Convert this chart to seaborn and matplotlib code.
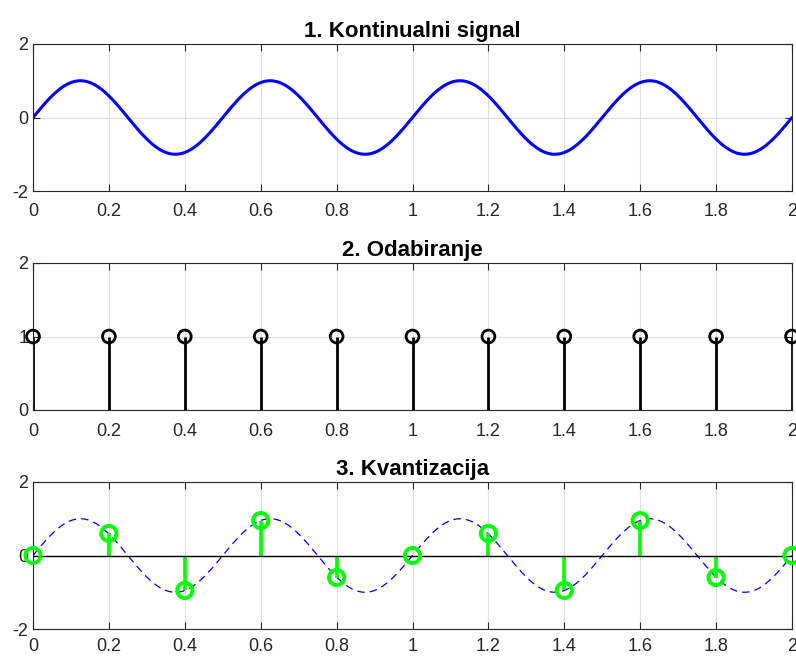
import numpy as np
import pandas as pd
import matplotlib
matplotlib.use("Agg")
import matplotlib.pyplot as plt
import seaborn as sns

# ---- data ----
titles = ["1. Kontinualni signal", "2. Odabiranje", "3. Kvantizacija"]
amplitude = 1.0          # peak of the continuous signal
frequency = 2.0          # Hz (4 periods over 0..2)
t_start, t_end = 0.0, 2.0
sample_times = [0.0, 0.2, 0.4, 0.6, 0.8, 1.0, 1.2, 1.4, 1.6, 1.8, 2.0]
sampling_pulses = [1, 1, 1, 1, 1, 1, 1, 1, 1, 1, 1]
quantized_values = [0.0, 0.6, -0.95, 0.95, -0.6, 0.0, 0.6, -0.95, 0.95, -0.6, 0.0]
x_ticks = [0, 0.2, 0.4, 0.6, 0.8, 1, 1.2, 1.4, 1.6, 1.8, 2]
x_ticklabels = ["0", "0.2", "0.4", "0.6", "0.8", "1", "1.2", "1.4", "1.6", "1.8", "2"]
y_ticks_signal = [-2, 0, 2]
y_ticks_pulses = [0, 1, 2]

t = np.linspace(t_start, t_end, 2001)
continuous = amplitude * np.sin(2 * np.pi * frequency * t)
df_cont = pd.DataFrame({"t": t, "x": continuous})

sns.set_style("ticks")
plt.rcParams["font.family"] = ["Liberation Sans", "DejaVu Sans"]
plt.rcParams["axes.unicode_minus"] = False

fig = plt.figure(figsize=(7.96, 6.57), dpi=100)
L, W, H = 33 / 796, (792 - 33) / 796, 147 / 657
bottoms = [1 - 191 / 657, 1 - 410 / 657, 1 - 629 / 657]
axes = [fig.add_axes([L, b, W, H]) for b in bottoms]

def style(ax, yticks, title, xpad):
    ax.set_xlim(0, 2)
    ax.set_ylim(yticks[0], yticks[-1])
    ax.set_xticks(x_ticks)
    ax.set_xticklabels(x_ticklabels)
    ax.set_yticks(yticks)
    ax.set_yticklabels([str(v) for v in yticks])
    ax.grid(True, color="#dfdfdf", linewidth=0.8)
    ax.set_axisbelow(True)
    for s in ax.spines.values():
        s.set_visible(True)
        s.set_color("#262626")
        s.set_linewidth(0.8)
    ax.tick_params(direction="in", top=True, right=True, length=5, width=0.8,
                   labelsize=13, colors="#262626")
    ax.tick_params(axis="x", pad=xpad)
    ax.tick_params(axis="y", pad=3.5)
    ax.set_title(title, fontsize=16, fontweight="bold", pad=5, color="black")
    ax.set_xlabel("")
    ax.set_ylabel("")

# 1. continuous signal
ax = axes[0]
sns.lineplot(data=df_cont, x="t", y="x", ax=ax, color="#0000ff", linewidth=2.2)
style(ax, y_ticks_signal, titles[0], 9)

# 2. sampling
ax = axes[1]
ml, sl, bl = ax.stem(sample_times, sampling_pulses, linefmt="k-", markerfmt="ko", basefmt=" ")
plt.setp(sl, linewidth=2.0)
ml.set_visible(False)
sns.scatterplot(x=sample_times, y=sampling_pulses, ax=ax, marker="o", s=85,
                facecolor="none", edgecolor="black", linewidth=2.0, clip_on=False, zorder=5)
style(ax, y_ticks_pulses, titles[1], 9)

# 3. quantization
ax = axes[2]
sns.lineplot(data=df_cont, x="t", y="x", ax=ax, color="#0000ff", linewidth=0.9,
             linestyle=(0, (6, 4)))
ax.axhline(0, color="black", linewidth=1.0, zorder=3)
ml, sl, bl = ax.stem(sample_times, quantized_values, linefmt="-", markerfmt="o", basefmt=" ")
plt.setp(sl, linewidth=2.6, color="#00ff00")
ml.set_visible(False)
sns.scatterplot(x=sample_times, y=quantized_values, ax=ax, marker="o", s=120,
                facecolor="none", edgecolor="#00ff00", linewidth=2.8, clip_on=False, zorder=5)
style(ax, y_ticks_signal, titles[2], 6.5)

fig.savefig("out.png", dpi=100)
